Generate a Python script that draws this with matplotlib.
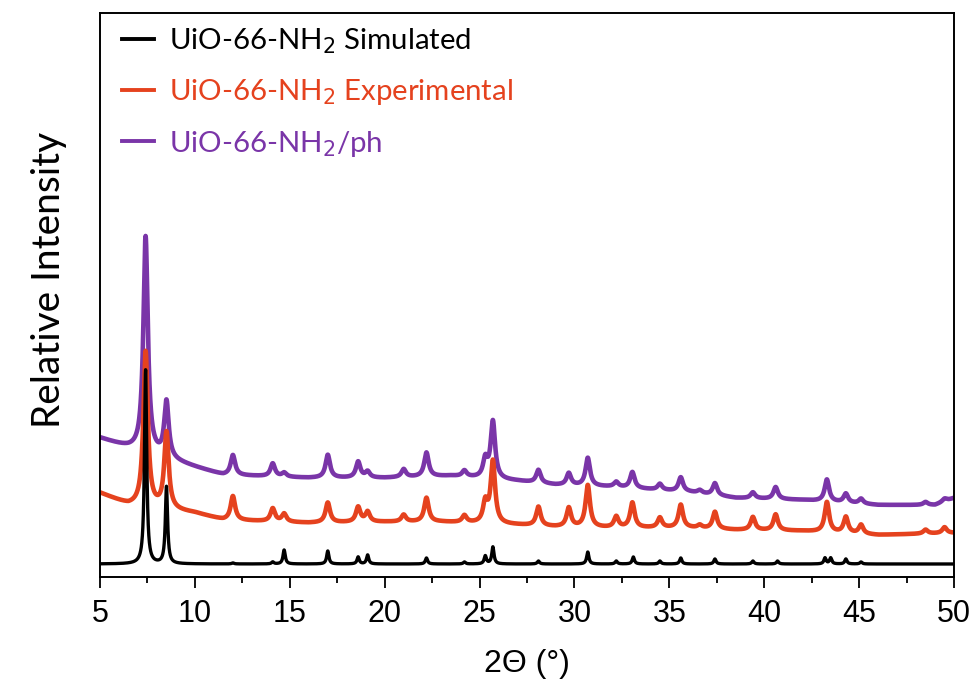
import numpy as np
import matplotlib.pyplot as plt
from matplotlib.ticker import MultipleLocator
from matplotlib import font_manager as fm

# Peak lists (2-theta position, peak height above background) and background knots
sim_pos = [7.4, 8.5, 12.0, 14.1, 14.7, 17.0, 18.6, 19.1, 22.2, 24.2, 25.3, 25.7,
           28.1, 30.7, 32.2, 33.1, 34.5, 35.6, 37.4, 39.4, 40.7, 43.2, 43.5, 44.3, 45.1]
sim_amp = [194, 77, 1, 2, 14, 13, 7, 9, 6, 2, 8, 17,
           3, 12, 3, 7, 3, 6, 5, 3, 3, 6, 6, 5, 2]
sim_bg_x = [5, 50]
sim_bg_y = [13, 13]

exp_pos = [7.4, 8.5, 12.0, 14.1, 14.7, 17.0, 18.6, 19.1, 21.0, 22.2, 24.2, 25.3, 25.7,
           28.1, 29.7, 30.7, 32.2, 33.05, 34.5, 35.6, 36.6, 37.4, 39.4, 40.6,
           43.3, 44.3, 45.1, 48.5, 49.5]
exp_amp = [155, 76, 24, 13, 8, 20, 15, 10, 7, 24, 7, 20, 62,
           19, 19, 42, 11, 25, 10, 23, 3, 17, 13, 16,
           30, 16, 9, 4, 6]
exp_bg_x = [5, 6.5, 10, 11.5, 13, 16, 20, 23, 27, 29, 32, 36, 38.5, 42, 46, 50]
exp_bg_y = [84, 72, 64, 57, 56, 54, 55, 55, 52, 50, 49, 49, 47, 46, 42, 44]

ph_pos = exp_pos
ph_amp = [216, 56, 20, 13, 4, 23, 16, 6, 8, 24, 6, 18, 57,
          13, 12, 28, 5, 16, 6, 14, 3, 12, 6, 12,
          22, 9, 5, 3, 3]
ph_bg_x = [5, 6.5, 10, 11.5, 13, 16, 20, 23.5, 27, 29, 32, 36, 38.5, 42, 46, 49, 50]
ph_bg_y = [139, 129, 110, 102, 101, 99, 99, 101, 96, 92, 90, 85, 79, 77, 72, 72, 79]

labels = ['UiO-66-NH$_2$ Simulated', 'UiO-66-NH$_2$ Experimental', 'UiO-66-NH$_2$/ph']
colors = ['#000000', '#E5421E', '#7A35A8']

two_theta = np.linspace(5, 50, 9001)


def pattern(pos, amp, bg_x, bg_y, hwhm):
    """Background plus Lorentzian peaks."""
    y = np.interp(two_theta, bg_x, bg_y)
    for p, a in zip(pos, amp):
        y = y + a * hwhm**2 / ((two_theta - p)**2 + hwhm**2)
    return y


sim = pattern(sim_pos, sim_amp, sim_bg_x, sim_bg_y, 0.07)
exp = pattern(exp_pos, exp_amp, exp_bg_x, exp_bg_y, 0.14)
ph = pattern(ph_pos, ph_amp, ph_bg_x, ph_bg_y, 0.14)

# narrow Arial-like face for the axis numbers if one is around
try:
    fm.findfont('Liberation Sans Narrow', fallback_to_default=False)
    tick_family = 'Liberation Sans Narrow'
except Exception:
    tick_family = 'Liberation Sans'

fig = plt.figure(figsize=(9.77, 6.93), dpi=100)
ax = fig.add_axes([0.1024, 0.1674, 0.8741, 0.8138])

ax.plot(two_theta, sim, color=colors[0], lw=2.4, label=labels[0], zorder=3)
ax.plot(two_theta, exp, color=colors[1], lw=3.3, label=labels[1], zorder=2)
ax.plot(two_theta, ph, color=colors[2], lw=3.3, label=labels[2], zorder=1)

ax.set_xlim(5, 50)
ax.set_ylim(0, 564)
ax.set_yticks([])
ax.xaxis.set_major_locator(MultipleLocator(5))
ax.xaxis.set_minor_locator(MultipleLocator(2.5))
ax.tick_params(axis='x', which='major', direction='out', length=8, width=1.3, pad=8)
ax.tick_params(axis='x', which='minor', direction='out', length=4, width=1.3)
for lab in ax.get_xticklabels():
    lab.set_family(tick_family)
    lab.set_fontsize(22)
for sp in ax.spines.values():
    sp.set_linewidth(1.4)

ax.set_xlabel('2Θ (°)', fontsize=23, family=tick_family, labelpad=14)
ax.set_ylabel('Relative Intensity', fontsize=28, family='Lato')
ax.yaxis.set_label_coords(-0.039, 0.527)

leg = ax.legend(loc='upper left', frameon=False, prop={'family': 'Lato', 'size': 21.2},
                handlelength=1.1, handletextpad=0.5, labelspacing=0.72,
                borderaxespad=0.0, bbox_to_anchor=(0.012, 0.997))
for txt, c in zip(leg.get_texts(), colors):
    txt.set_color(c)
for h in leg.get_lines():
    h.set_linewidth(2.8)

fig.savefig('out.png', dpi=100)
